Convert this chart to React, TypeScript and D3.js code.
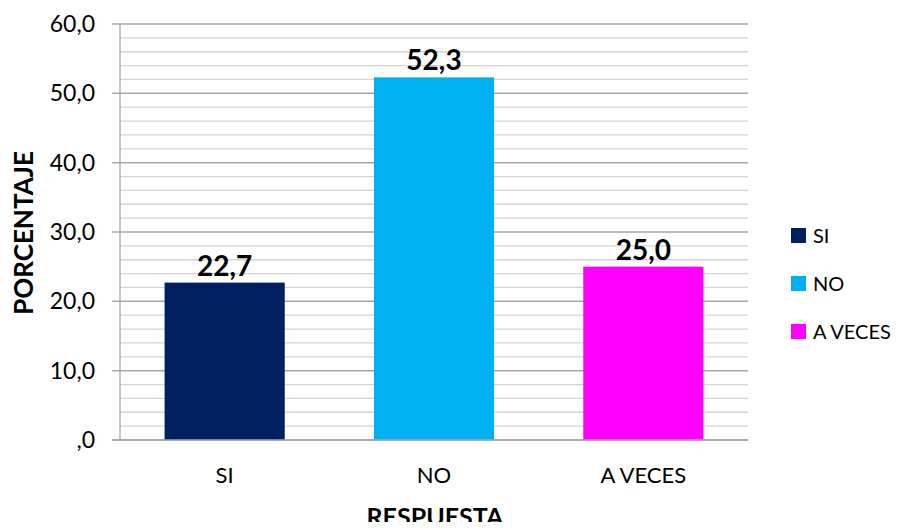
import React from 'react';
import * as d3 from 'd3';

// chart data
const categories = ['SI', 'NO', 'A VECES'];
const values = [22.7, 52.3, 25.0];
const colors = ['#002060', '#00B0F0', '#FF00FF'];
const majorTicks = [0, 10, 20, 30, 40, 50, 60];
const minorTicks = d3.range(0, 61, 2);

const W = 903;
const H = 530;
const plot = { left: 120, right: 748, top: 24, bottom: 440 };
const font = 'Lato, "Open Sans", sans-serif';

const fmt = (v: number) => {
  const s = v.toFixed(1).replace('.', ',');
  return s.startsWith('0,') ? s.slice(1) : s;
};

export default function App() {
  const x = d3.scaleBand<string>()
    .domain(categories)
    .range([plot.left, plot.right])
    .paddingInner(0.426)
    .paddingOuter(0.213);

  const y = d3.scaleLinear().domain([0, 60]).range([plot.bottom, plot.top]);

  const band = (plot.right - plot.left) / categories.length;

  return (
    <div style={{ margin: -8 }}>
      <svg width={W} height={H} style={{ display: 'block', background: '#fff' }}>
        {/* minor gridlines */}
        {minorTicks.filter(t => t % 10 !== 0).map(t => (
          <line key={'m' + t} x1={plot.left} x2={plot.right} y1={y(t)} y2={y(t)}
            stroke="#d4d4d4" strokeWidth={1.3} />
        ))}
        {/* major gridlines */}
        {majorTicks.map(t => (
          <line key={'M' + t} x1={plot.left - 8} x2={plot.right} y1={y(t)} y2={y(t)}
            stroke="#a6a6a6" strokeWidth={1.5} />
        ))}
        {/* y axis line */}
        <line x1={plot.left} x2={plot.left} y1={plot.top} y2={plot.bottom} stroke="#a6a6a6" strokeWidth={1.3} />
        {/* y tick labels */}
        {majorTicks.map(t => (
          <text key={'yl' + t} x={95} y={y(t)} dy="0.35em" textAnchor="end"
            fontFamily={font} fontSize={23} fill="#000">{fmt(t)}</text>
        ))}
        {/* bars */}
        {categories.map((c, i) => (
          <g key={c}>
            <rect x={x(c)} y={y(values[i])} width={x.bandwidth()} height={plot.bottom - y(values[i])}
              fill={colors[i]} />
            <text x={(x(c) ?? 0) + x.bandwidth() / 2} y={y(values[i]) - 7} textAnchor="middle"
              fontFamily={font} fontSize={28} fontWeight="bold" fill="#000">{fmt(values[i])}</text>
          </g>
        ))}
        {/* zero line on top */}
        <line x1={plot.left - 8} x2={plot.right} y1={y(0)} y2={y(0)} stroke="#a6a6a6" strokeWidth={1.5} />
        {/* x labels */}
        {categories.map((c, i) => (
          <text key={'xl' + c} x={plot.left + band * (i + 0.5)} y={483} textAnchor="middle"
            fontFamily={font} fontSize={22} fill="#000">{c}</text>
        ))}
        {/* axis titles */}
        <text x={435} y={526} textAnchor="middle" fontFamily={font} fontSize={25} fontWeight="bold">RESPUESTA</text>
        <text transform="translate(33,233) rotate(-90)" textAnchor="middle" fontFamily={font}
          fontSize={26} fontWeight="bold">PORCENTAJE</text>
        {/* legend */}
        {categories.map((c, i) => (
          <g key={'lg' + c} transform={`translate(791,${228 + i * 48})`}>
            <rect width={15} height={15} fill={colors[i]} />
            <text x={22} y={7.5} dy="0.35em" fontFamily={font} fontSize={20} fill="#000">{c}</text>
          </g>
        ))}
      </svg>
    </div>
  );
}
